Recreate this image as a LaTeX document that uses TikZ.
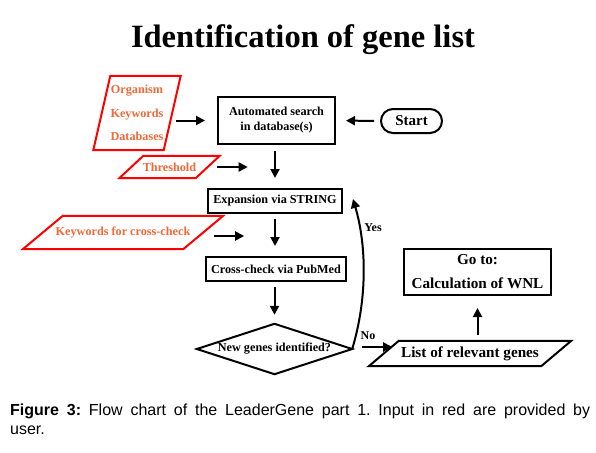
\documentclass[tikz,border=0pt]{standalone}
\usepackage{fontspec}
\setmainfont{Liberation Serif}
\newfontfamily\capfont{Liberation Sans}
\usetikzlibrary{arrows.meta,calc}
\definecolor{inred}{RGB}{255,0,0}
\definecolor{intext}{RGB}{242,104,56}
\newcommand{\paraoutline}[3]{\draw[#1] ($(#2.north west)+(#3,0)$) -- ($(#2.north east)+(#3,0)$) -- ($(#2.south east)-(#3,0)$) -- ($(#2.south west)-(#3,0)$) -- cycle;}
\frenchspacing
\begin{document}
\begin{tikzpicture}[x=1pt,y=-1pt,
 box/.style={draw, line width=2pt, inner sep=0pt, align=center, font=\bfseries\fontsize{12.2}{15}\selectfont},
 hid/.style={inner sep=0pt, align=center},
 intxt/.style={hid, text=intext, font=\bfseries\fontsize{12.2}{23.5}\selectfont},
 redline/.style={draw=inred, line width=2pt, line join=miter},
 blkline/.style={draw=black, line width=2pt, line join=miter},
 arr/.style={line width=2pt, -{Triangle[length=9pt,width=9pt]}},
 lbl/.style={inner sep=0pt, font=\bfseries\fontsize{12}{13}\selectfont}]
\useasboundingbox (0,0) rectangle (596,452);
% title
\node[inner sep=0pt, font=\bfseries\fontsize{32.5}{36}\selectfont] (title) at (303,40) {Identification of gene list};
% process boxes
\node[box, minimum width=117pt, minimum height=47pt] (auto) at (276.5,120.5) {Automated search\\in database(s)};
\node[box, rounded corners=12pt, minimum width=61pt, minimum height=24pt, font=\bfseries\fontsize{15}{18}\selectfont] (start) at (411.5,121) {Start};
\node[box, minimum width=134pt, minimum height=24pt] (exp) at (275,201) {Expansion via STRING};
\node[box, minimum width=140pt, minimum height=24pt] (cross) at (276,269) {Cross-check via PubMed};
\node[hid, minimum width=155pt, minimum height=50pt, font=\bfseries\fontsize{12.2}{14}\selectfont] (dia) at (274.5,349) {New genes identified?};
\draw[blkline] (dia.west) -- (dia.north) -- (dia.east) -- (dia.south) -- cycle;
\node[box, minimum width=147pt, minimum height=46pt, font=\bfseries\fontsize{15.2}{24}\selectfont] (goto) at (477.5,272) {Go to:\\Calculation of WNL};
\node[hid, minimum width=172pt, minimum height=25pt, font=\bfseries\fontsize{15.2}{18}\selectfont] (list) at (470,353.5) {List of relevant genes};
\paraoutline{blkline}{list}{15}
% inputs (red)
\node[intxt, minimum width=70pt, minimum height=74pt] (org) at (137,113) {Organism\\Keywords\\Databases};
\paraoutline{redline}{org}{8.5}
\node[intxt, minimum width=76pt, minimum height=22pt] (th) at (169.5,167) {Threshold};
\paraoutline{redline}{th}{12}
\node[intxt, minimum width=160pt, minimum height=33pt] (kw) at (123,232.5) {Keywords for cross-check};
\paraoutline{redline}{kw}{20}
% connectors
\draw[arr, shorten <=4pt, shorten >=12pt] (org.east |- auto.west) -- (auto.west);
\draw[arr, shorten <=6pt, shorten >=10pt] (start.west) -- (auto.east);
\draw[arr, shorten <=6pt, shorten >=10pt] (auto.south -| exp.north) -- (exp.north);
\coordinate (thend) at ([xshift=40pt]th.east);
\draw[arr, shorten <=9pt] (th.east) -- (thend);
\draw[arr, shorten <=5pt, shorten >=10pt] (exp.south) -- (exp.south |- cross.north);
\coordinate (kwend) at ([xshift=41pt,yshift=-3.5pt]kw.east);
\draw[arr, shorten <=11pt] ([yshift=-3.5pt]kw.east) -- (kwend);
\draw[arr, shorten <=5pt, shorten >=9pt] (cross.south -| dia.north) -- (dia.north);
\draw[arr] (dia.east) .. controls (367,300) and (367,247) .. ([xshift=10pt,yshift=2pt]exp.east);
\node[lbl] (yes) at (373,228) {Yes};
\coordinate (noend) at ([xshift=40pt,yshift=2pt]dia.east);
\draw[arr, shorten <=10pt] ([yshift=2pt]dia.east) -- (noend);
\node[lbl] (no) at (368,336) {No};
\draw[arr, shorten <=6pt, shorten >=12pt] (list.north -| goto.south) -- (goto.south);
% caption
\node[anchor=north west, inner sep=0pt, font=\capfont\fontsize{16}{19}\selectfont] (cap) at (10,404) {\parbox{580pt}{\frenchspacing\textbf{Figure 3:} Flow chart of the LeaderGene part 1. Input in red are provided by\linebreak user.}};
\end{tikzpicture}
\end{document}
